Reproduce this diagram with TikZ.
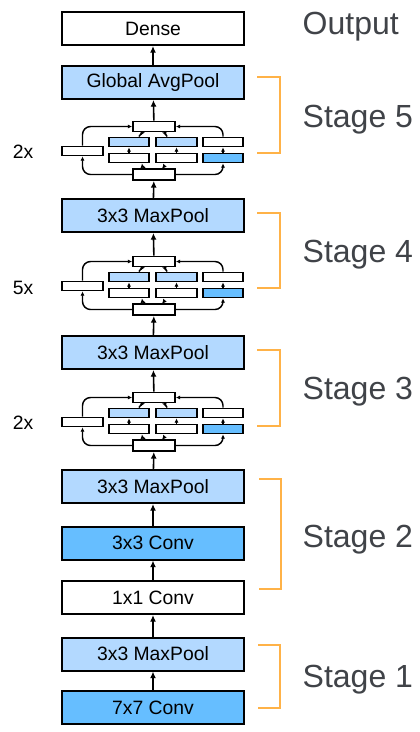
\documentclass[tikz,border=0pt]{standalone}
\usepackage{fontspec}
\setmainfont{Liberation Sans}
\usepackage{tikz}
\usetikzlibrary{positioning,arrows.meta}
\definecolor{LayerLight}{RGB}{179,217,255}
\definecolor{LayerDark}{RGB}{102,190,255}
\definecolor{StageOrange}{RGB}{255,178,71}
\definecolor{StageGray}{RGB}{64,67,72}

\begin{document}
\begin{tikzpicture}[
    x=0.75pt, y=-0.75pt,
    layer/.style={
        draw,
        line width=1.5pt,
        minimum width=136.5pt,
        minimum height=24.75pt,
        inner sep=0pt,
        font=\fontsize{14.5}{16}\selectfont
    },
    small/.style={
        draw,
        line width=1.45pt,
        minimum width=30pt,
        minimum height=6.75pt,
        inner sep=0pt,
        fill=white
    },
    joint/.style={small, minimum width=31.5pt, minimum height=7.5pt},
    arrow/.style={-{Latex[length=5pt,width=4.5pt]}, line width=1.2pt},
    tinyarrow/.style={-{Latex[length=3.2pt,width=3.2pt]}, line width=1.1pt},
    stage/.style={anchor=west, text=StageGray, font=\fontsize{24}{28}\selectfont},
    rep/.style={font=\fontsize{14.5}{16}\selectfont},
    bracket/.style={draw=StageOrange, line width=2pt}
]
\useasboundingbox (0,0) rectangle (420,732);

% main column
\node[layer] (dense) at (153,28.5) {Dense};
\node[layer, fill=LayerLight] (gap) at (153,82.5) {Global AvgPool};
\node[layer, fill=LayerLight] (pool4) at (153,215.5) {3x3 MaxPool};
\node[layer, fill=LayerLight] (pool3) at (153,352.5) {3x3 MaxPool};
\node[layer, fill=LayerLight] (pool2) at (153,486.5) {3x3 MaxPool};
\node[layer, fill=LayerDark] (conv3) at (153,543) {3x3 Conv};
\node[layer] (conv1) at (153,597.5) {1x1 Conv};
\node[layer, fill=LayerLight] (pool1) at (153,654) {3x3 MaxPool};
\node[layer, fill=LayerDark] (conv7) at (153,707.5) {7x7 Conv};

% inception blocks
\foreach \s/\c in {5/151, 4/286, 3/422} {
    \node[joint] (top\s) at (154,\c-24.5) {};
    \node[joint, minimum height=8.25pt] (bot\s) at (154,\c+23.5) {};
    \node[small, minimum width=30.75pt] (left\s) at (82.5,\c) {};
    \node[small, fill=LayerLight] (ra\s) at (129,\c-9) {};
    \node[small, fill=LayerLight, minimum width=30.75pt] (rb\s) at (176.5,\c-9) {};
    \node[small] (rc\s) at (223,\c-9) {};
    \node[small] (sa\s) at (129,\c+7) {};
    \node[small, minimum width=30.75pt] (sb\s) at (176.5,\c+7) {};
    \node[small, fill=LayerDark] (sc\s) at (223,\c+7) {};

    \draw[tinyarrow, rounded corners=6pt] (left\s.north) |- (top\s.west);
    \draw[tinyarrow, rounded corners=6pt] (bot\s.west) -| (left\s.south);
    \draw[tinyarrow, rounded corners=6pt] (bot\s.east) -| (sc\s.south);
    \draw[tinyarrow, rounded corners=6pt] (rc\s.north) |- (top\s.east);
    \draw[tinyarrow] (sa\s) -- (ra\s);
    \draw[tinyarrow] (sb\s) -- (rb\s);
    \draw[tinyarrow] (sc\s) -- (rc\s);
    \draw[tinyarrow] ([shift={(-11,0)}]ra\s.north east) to[bend left=25] ([shift={(-9,0)}]top\s.south);
    \draw[tinyarrow] ([shift={(12,0)}]rb\s.north west) to[bend right=25] ([shift={(8,0)}]top\s.south);
    \draw[tinyarrow] ([shift={(-9,0)}]bot\s.north) to[bend left=25] ([shift={(-8,0)}]sa\s.south east);
    \draw[tinyarrow] ([shift={(9,0)}]bot\s.north) to[bend right=25] ([shift={(8,0)}]sb\s.south west);
}

\node[rep] (rep5) at (23,152) {2x};
\node[rep] (rep4) at (23,288) {5x};
\node[rep] (rep3) at (23,423) {2x};

% data flow
\draw[arrow] (conv7) -- (pool1);
\draw[arrow] (pool1) -- (conv1);
\draw[arrow] (conv1) -- (conv3);
\draw[arrow] (conv3) -- (pool2);
\draw[arrow] (pool2) -- (bot3);
\draw[arrow] (top3) -- (pool3);
\draw[arrow] (pool3) -- (bot4);
\draw[arrow] (top4) -- (pool4);
\draw[arrow] (pool4) -- (bot5);
\draw[arrow] (top5) -- (gap);
\draw[arrow] (gap) -- (dense);

% stages
\node[stage] (out) at (298,27) {Output};
\node[stage] (st5) at (298,120) {Stage 5};
\node[stage] (st4) at (298,255) {Stage 4};
\node[stage] (st3) at (298,392) {Stage 3};
\node[stage] (st2) at (298,540) {Stage 2};
\node[stage] (st1) at (298,680) {Stage 1};

\draw[bracket] (257,77) -- (280,77) -- (280,153) -- (257,153);
\draw[bracket] (257,213) -- (280,213) -- (280,288) -- (257,288);
\draw[bracket] (257,350) -- (280,350) -- (280,426) -- (257,426);
\draw[bracket] (259,479) -- (281,479) -- (281,589) -- (259,589);
\draw[bracket] (258,645) -- (280,645) -- (280,708) -- (258,708);

\end{tikzpicture}
\end{document}
